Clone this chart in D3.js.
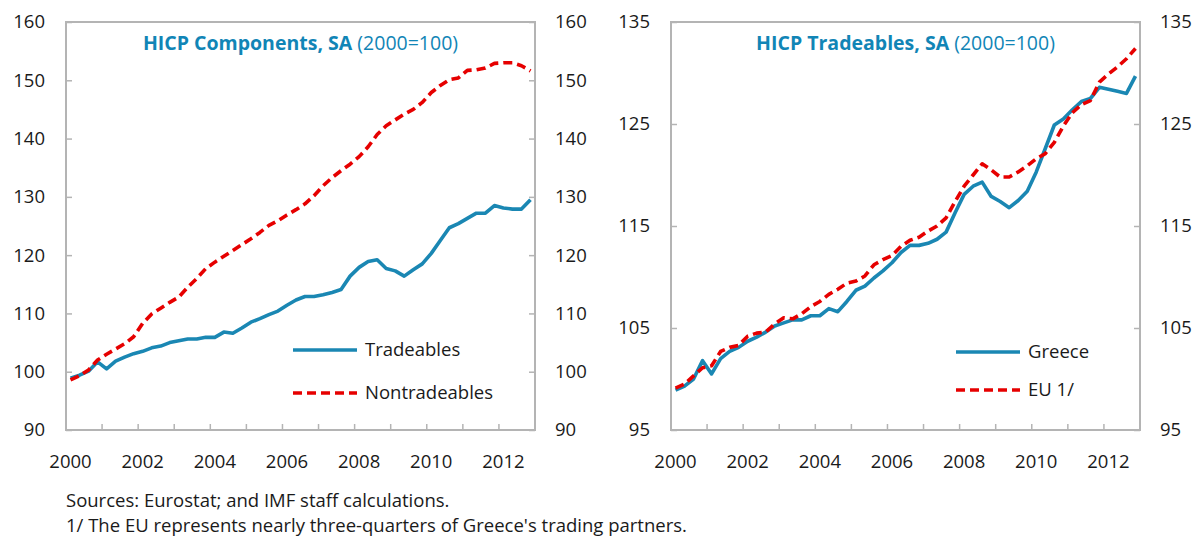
<!DOCTYPE html>
<html>
<head>
<meta charset="utf-8">
<script src="https://cdn.jsdelivr.net/npm/d3@7"></script>
<style>
  html, body { margin: 0; padding: 0; background: #fff; }
  svg { display: block; font-family: "Open Sans", "Noto Sans", sans-serif; }
</style>
</head>
<body>
<svg id="chart" width="1196" height="539"></svg>
<script>
// Quarterly HICP indices, 2000Q1–2012Q4 (2000 = 100)
const years = d3.range(2000, 2013);
const quarters = years.flatMap(y => [1, 2, 3, 4].map(q => `${y}Q${q}`));

const tradeables = [
  98.9, 99.4, 100.1, 101.7, 100.5, 101.8, 102.5, 103.1, 103.5, 104.1, 104.4, 105.0, 105.3,
  105.6, 105.6, 105.9, 105.9, 106.8, 106.6, 107.5, 108.5, 109.1, 109.8, 110.4, 111.4, 112.3,
  112.9, 112.9, 113.2, 113.6, 114.1, 116.4, 117.9, 118.9, 119.2, 117.7, 117.3, 116.4, 117.5,
  118.5, 120.3, 122.5, 124.7, 125.4, 126.3, 127.2, 127.2, 128.5, 128.1, 127.9, 127.9, 129.5
];
const nontradeables = [
  98.6, 99.3, 100.3, 102.0, 103.0, 103.9, 104.8, 106.0, 108.3, 109.9, 110.9, 111.9, 112.8,
  114.5, 116.0, 117.7, 118.8, 119.8, 120.8, 121.8, 122.8, 123.9, 125.1, 125.9, 126.9, 127.8,
  128.8, 130.2, 131.9, 133.3, 134.5, 135.6, 136.9, 138.6, 140.7, 142.2, 143.2, 144.2, 145.0,
  146.2, 147.9, 149.1, 150.1, 150.4, 151.7, 151.8, 152.1, 152.9, 153.0, 153.0, 152.5, 151.6
];
const greece = [
  98.9, 99.3, 100.0, 101.8, 100.5, 102.0, 102.7, 103.1, 103.7, 104.1, 104.6, 105.2, 105.5,
  105.8, 105.8, 106.2, 106.2, 106.9, 106.6, 107.6, 108.7, 109.1, 109.9, 110.6, 111.4, 112.4,
  113.1, 113.1, 113.3, 113.7, 114.4, 116.3, 118.1, 118.9, 119.3, 117.9, 117.4, 116.8, 117.5,
  118.4, 120.3, 122.6, 124.9, 125.5, 126.4, 127.2, 127.5, 128.6, 128.4, 128.2, 128.0, 129.7
];
const eu = [
  99.1, 99.5, 100.3, 101.1, 101.3, 102.7, 103.1, 103.3, 104.2, 104.5, 104.6, 105.4, 106.0,
  105.9, 106.4, 107.1, 107.6, 108.3, 108.8, 109.4, 109.6, 110.1, 111.2, 111.7, 112.1, 113.0,
  113.6, 113.9, 114.5, 115.0, 115.8, 117.4, 118.9, 120.0, 121.1, 120.5, 119.8, 119.8, 120.3,
  120.9, 121.6, 122.1, 123.2, 124.8, 126.1, 126.9, 127.3, 129.1, 129.9, 130.6, 131.4, 132.4
];

const leftTicks = [90, 100, 110, 120, 130, 140, 150, 160];
const rightTicks = [95, 105, 115, 125, 135];
const yearLabels = [2000, 2002, 2004, 2006, 2008, 2010, 2012];

const BLUE = "#1a87b3";
const RED = "#e60000";
const FRAME = "#b4b4b4";
const TEXT = "#1a1a1a";
const FONT = 18.5;

const svg = d3.select("#chart");

const panels = [
  {
    left: 66, right: 535, top: 22, bottom: 430,
    domain: [90, 160], ticks: leftTicks,
    titleBold: "HICP Components, SA", titleLight: " (2000=100)",
    series: [
      { name: "Tradeables", values: tradeables, color: BLUE, dash: null },
      { name: "Nontradeables", values: nontradeables, color: RED, dash: "9,5" }
    ],
    legendX: 293, legendY: [350, 393]
  },
  {
    left: 671, right: 1140, top: 22, bottom: 430,
    domain: [95, 135], ticks: rightTicks,
    titleBold: "HICP Tradeables, SA", titleLight: " (2000=100)",
    series: [
      { name: "Greece", values: greece, color: BLUE, dash: null },
      { name: "EU 1/", values: eu, color: RED, dash: "9,5" }
    ],
    legendX: 956, legendY: [352, 390]
  }
];

panels.forEach(p => {
  const x = d3.scaleBand().domain(quarters).range([p.left, p.right]).padding(0);
  const y = d3.scaleLinear().domain(p.domain).range([p.bottom, p.top]);
  const bw = x.bandwidth();
  const g = svg.append("g");

  // Series lines
  p.series.forEach(s => {
    const line = d3.line()
      .x((d, i) => x(quarters[i]) + bw / 2)
      .y(d => y(d));
    g.append("path")
      .datum(s.values)
      .attr("fill", "none")
      .attr("stroke", s.color)
      .attr("stroke-width", 3.6)
      .attr("stroke-linejoin", "round")
      .attr("stroke-dasharray", s.dash)
      .attr("d", line);
  });

  // Frame
  g.append("rect")
    .attr("x", p.left).attr("y", p.top)
    .attr("width", p.right - p.left).attr("height", p.bottom - p.top)
    .attr("fill", "none").attr("stroke", FRAME).attr("stroke-width", 2);

  // Value axes on both sides (ticks inside)
  const leftAxis = d3.axisRight(y).tickValues(p.ticks).tickSize(6).tickFormat("");
  const la = g.append("g").attr("transform", `translate(${p.left},0)`).call(leftAxis);
  la.select(".domain").remove();
  la.selectAll("line").attr("stroke", FRAME).attr("stroke-width", 1.5);

  const rightAxis = d3.axisLeft(y).tickValues(p.ticks).tickSize(6).tickFormat("");
  const ra = g.append("g").attr("transform", `translate(${p.right},0)`).call(rightAxis);
  ra.select(".domain").remove();
  ra.selectAll("line").attr("stroke", FRAME).attr("stroke-width", 1.5);

  // Value labels on both sides
  g.selectAll(".ylab-l").data(p.ticks).join("text")
    .attr("x", p.left - 21).attr("y", d => y(d))
    .attr("dy", "0.35em").attr("text-anchor", "end")
    .attr("font-size", FONT).attr("fill", TEXT).text(d => d);
  g.selectAll(".ylab-r").data(p.ticks).join("text")
    .attr("x", p.right + 20).attr("y", d => y(d))
    .attr("dy", "0.35em").attr("text-anchor", "start")
    .attr("font-size", FONT).attr("fill", TEXT).text(d => d);

  // Category axis: tick marks at year boundaries, labels every other year
  const yearStarts = quarters.filter((q, i) => q.endsWith("Q1") && i > 0);
  g.selectAll(".xtick").data(yearStarts).join("line")
    .attr("x1", d => x(d)).attr("x2", d => x(d))
    .attr("y1", p.bottom).attr("y2", p.bottom - 6)
    .attr("stroke", FRAME).attr("stroke-width", 1.5);
  g.selectAll(".xlab").data(yearLabels).join("text")
    .attr("x", d => x(`${d}Q1`) + bw / 2)
    .attr("y", 468)
    .attr("text-anchor", "middle")
    .attr("font-size", FONT).attr("fill", TEXT).text(d => d);

  // Title
  const title = g.append("text")
    .attr("x", (p.left + p.right) / 2).attr("y", 50)
    .attr("text-anchor", "middle").attr("font-size", 19.5).attr("fill", "#1185b6");
  title.append("tspan").attr("font-weight", "bold").text(p.titleBold);
  title.append("tspan").attr("font-weight", "normal").text(p.titleLight);

  // Legend
  p.series.forEach((s, i) => {
    const ly = p.legendY[i];
    g.append("line")
      .attr("x1", p.legendX).attr("x2", p.legendX + 64)
      .attr("y1", ly).attr("y2", ly)
      .attr("stroke", s.color).attr("stroke-width", 3.6)
      .attr("stroke-dasharray", s.dash);
    g.append("text")
      .attr("x", p.legendX + 72).attr("y", ly)
      .attr("dy", "0.35em").attr("font-size", FONT).attr("fill", TEXT)
      .text(s.name);
  });
});

// Notes
const notes = [
  "Sources: Eurostat; and IMF staff calculations.",
  "1/ The EU represents nearly three-quarters of Greece's trading partners."
];
svg.selectAll(".note").data(notes).join("text")
  .attr("x", 66).attr("y", (d, i) => 507 + i * 25)
  .attr("font-size", 18.5).attr("fill", TEXT).text(d => d);
</script>
</body>
</html>
